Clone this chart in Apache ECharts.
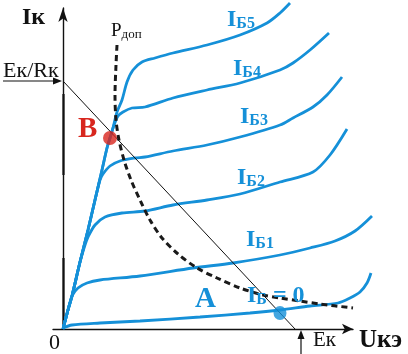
<!DOCTYPE html>
<html><head><meta charset="utf-8">
<script src="https://cdn.jsdelivr.net/npm/echarts@6/dist/echarts.min.js"></script>
<style>html,body{margin:0;padding:0;background:#fff}#c{width:408px;height:354px}</style>
</head><body><div id="c"></div>
<script>
// Output characteristics (U in arbitrary units, I in arbitrary units)
const curveNames = ['Iб0','Iб1','Iб2','Iб3','Iб4','Iб5'];
const ib0 = [[0,0.1],[0.9,0.4],[3.7,0.6],[7.7,0.8],[13.7,1.2],[18.7,1.6],[21.7,1.9],[24.7,2.3],[27.5,2.6],[28.7,3.1],[29.7,3.7],[30.4,4.6],[30.8,5.6]];
const ib1 = [[0,0],[0.5,1.9],[0.9,3.3],[1.5,4.1],[2.4,4.6],[3.7,4.9],[7.7,5.3],[13,6.1],[17,6.6],[21.7,7.4],[24.7,8.1],[27.2,8.8],[29.2,9.8],[30.9,11.3]];
const ib2 = [[0,0],[0.5,1.9],[0.9,3.3],[1.7,6.7],[2.2,8.4],[2.5,9.2],[3.2,10.4],[4.2,11.2],[5.9,11.6],[8.2,11.8],[11,12.4],[14.4,12.9],[17.7,13.5],[21.7,14.7],[25,15.7],[26.7,17.4],[28.4,20]];
const ib3 = [[0,0],[0.5,1.9],[0.9,3.3],[1.7,6.7],[2.5,9.9],[3.2,12.9],[3.7,14.9],[4,15.5],[4.7,16.3],[5.7,16.8],[7.2,17.1],[8.2,17.2],[11,17.8],[14.4,18.4],[17.7,19.2],[21.7,20.4],[23,21.1],[25,22.2],[26.4,23.4],[27.9,25.2]];
const ib4 = [[0,0],[0.5,1.9],[0.9,3.3],[1.7,6.7],[2.5,9.9],[3.2,12.9],[3.9,15.9],[4.4,18.1],[4.7,19.1],[5,20.1],[5.5,21.3],[6,21.7],[6.9,22.1],[8.2,22.2],[11,23.1],[14.4,23.9],[17.7,24.6],[21.7,25.9],[23,26.6],[24.7,27.9],[26.6,29.6]];
const ib5 = [[0,0],[0.5,1.9],[0.9,3.3],[1.7,6.7],[2.5,9.9],[3.2,12.9],[3.9,15.9],[4.4,18.1],[4.7,19.1],[5,20.1],[5.4,21.7],[5.9,22.9],[6.4,24.7],[7,25.9],[7.9,26.7],[9.2,27.1],[11,27.6],[14.4,28.4],[17.7,29.4],[20.4,30.6],[21.7,31.6],[22.7,32.6]];
// Allowed power dissipation hyperbola
const pDop = [[5.4,28.4],[5.3,26.4],[5.2,23.4],[5.3,20.9],[5.6,18.9],[6.1,16.9],[6.8,14.9],[7.7,12.9],[8.7,10.9],[9.9,9.1],[11.5,7.5],[13.4,6.1],[15.4,5.1],[17.7,4.1],[20,3.4],[21.7,3.1],[23.7,2.8],[25.7,2.5],[29,2.1]];
// Load line: Ek/Rk on I axis, Ek on U axis
const Ek = 23.2, EkRk = 24.8;
const loadLine = [[0, EkRk],[Ek, 0]];
const pointA = [[21.7, 1.6]];
const pointB = [[4.7, 19.1]];

const BLUE = '#1590d8', RED = '#d8261e', SERIF = 'Liberation Serif';
const chart = echarts.init(document.getElementById('c'), null, {renderer:'canvas'});

// grid 0: data plotting area (same scale as the drawn axes, but wider so curves run past the arrow tips)
// grid 1: visible axes with arrows
const curves = [ib0, ib1, ib2, ib3, ib4, ib5].map((d,i)=>({
  name: curveNames[i], type:'line', data:d, symbol:'none', smooth:0.3, z:3, xAxisIndex:0, yAxisIndex:0,
  lineStyle:{color:BLUE, width:2.8}
}));

function lbl(x, base, parts, color){
  const S = Math.max(...parts.map(p=>p[1]));
  const rich = {}; let txt = '';
  parts.forEach((p,i)=>{
    const [t,s,b,dy] = p; const sh = dy||0;
    const L = 2*(0.305*s + 0.195*S - sh);
    rich['t'+i] = {fontFamily:SERIF, fontSize:s, fontWeight:b?'bold':'normal', fill:color, lineHeight:L, verticalAlign:'bottom'};
    txt += '{t'+i+'|'+t+'}';
  });
  return {type:'text', x:x, y:base+0.195*S, z:10, style:{text:txt, rich:rich, fontFamily:SERIF, fontSize:S, align:'left', verticalAlign:'bottom', fill:color}};
}
const hidden = {show:false};
const noAx = {splitLine:hidden, axisTick:hidden, axisLabel:hidden};

chart.setOption({
  animation:false,
  grid:[{left:53, right:35, top:0, bottom:25}, {left:53, right:55, top:8, bottom:25}],
  xAxis:[
    Object.assign({type:'value', gridIndex:0, min:-1, max:31, axisLine:hidden}, noAx),
    Object.assign({type:'value', gridIndex:1, min:-1, max:29,
      axisLine:{show:true, onZero:true, symbol:['none','arrow'], symbolSize:[8,11], lineStyle:{color:'#111', width:1.4}}}, noAx)
  ],
  yAxis:[
    Object.assign({type:'value', gridIndex:0, min:0, max:32.9, axisLine:hidden}, noAx),
    Object.assign({type:'value', gridIndex:1, min:0, max:32.1,
      axisLine:{show:true, onZero:true, symbol:['none','arrow'], symbolSize:[7,14], lineStyle:{color:'#111', width:1.4}}}, noAx)
  ],
  series: curves.concat([
    {name:'Pдоп', type:'line', data:pDop, symbol:'none', smooth:0.3, z:4,
      lineStyle:{color:'#1a1a1a', width:3, type:[6,4]}},
    {name:'load', type:'line', data:loadLine, symbol:'none', z:5, lineStyle:{color:'#111', width:1}},
    {name:'A', type:'scatter', data:pointA, symbol:'circle', symbolSize:[13,14], itemStyle:{color:BLUE}, z:6},
    {name:'B', type:'scatter', data:pointB, symbol:'circle', symbolSize:14, itemStyle:{color:RED}, z:6}
  ]),
  graphic:[
    {type:'line', shape:{x1:63.5,y1:94,x2:63.5,y2:175}, style:{stroke:'#111', lineWidth:2.2}},
    {type:'line', shape:{x1:63.5,y1:258,x2:63.5,y2:330}, style:{stroke:'#111', lineWidth:2.2}},
    lbl(22, 25, [['I',24,true],['к',24,true]], '#111'),
    lbl(3, 78, [['Eк/Rк',22,false]], '#111'),
    {type:'line', shape:{x1:3,y1:81,x2:55,y2:81}, style:{stroke:'#111', lineWidth:1.2}},
    {type:'polygon', shape:{points:[[62,81],[53,77.5],[53,84.5]]}, style:{fill:'#111'}},
    lbl(111, 37, [['P',19,false],['доп',13,false,3]], '#111'),
    lbl(227, 27, [['I',24,true],['Б5',16,true]], BLUE),
    lbl(233, 76, [['I',24,true],['Б4',16,true]], BLUE),
    lbl(240, 124, [['I',24,true],['Б3',16,true]], BLUE),
    lbl(237, 185, [['I',24,true],['Б2',16,true]], BLUE),
    lbl(246, 247, [['I',24,true],['Б1',16,true]], BLUE),
    lbl(195, 308, [['A',29,true]], BLUE),
    lbl(247, 303, [['I',24,true],['Б',16,true],[' = 0',24,true]], BLUE),
    lbl(78, 138, [['B',29,true]], RED),
    lbl(49, 350, [['0',22,false]], '#111'),
    lbl(313, 347, [['Eк',21,false]], '#111'),
    {type:'line', shape:{x1:301,y1:354,x2:301,y2:338}, style:{stroke:'#111', lineWidth:1.2}},
    {type:'polygon', shape:{points:[[301,330],[297.5,339],[304.5,339]]}, style:{fill:'#111'}},
    lbl(359, 348, [['U',25,true],['кэ',25,true]], '#111')
  ]
});
</script></body></html>
